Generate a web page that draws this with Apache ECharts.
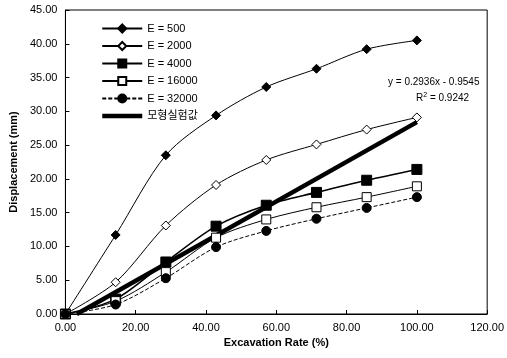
<!DOCTYPE html>
<html>
<head>
<meta charset="utf-8">
<script src="https://cdn.jsdelivr.net/npm/echarts@6/dist/echarts.min.js"></script>
<style>
  html, body { margin: 0; padding: 0; background: #fff; }
  #chart { width: 507px; height: 358px; }
</style>
</head>
<body>
<div id="chart"></div>
<script>
// excavation rate (%)
var rates = [0, 14.29, 28.57, 42.86, 57.14, 71.43, 85.71, 100];
var e500 = [0, 11.7, 23.5, 29.4, 33.6, 36.3, 39.2, 40.5];
var e2000 = [0, 4.7, 13.1, 19.1, 22.8, 25.1, 27.3, 29.1];
var e4000 = [0, 2.2, 7.7, 13.0, 16.1, 18.0, 19.8, 21.4];
var e16000 = [0, 1.9, 6.2, 11.3, 14.0, 15.8, 17.3, 18.9];
var e32000 = [0, 1.4, 5.3, 9.9, 12.3, 14.1, 15.7, 17.3];
// 모형실험값 trend line ends
var trendX = [3.25, 100];
var trendY = [0, 28.4];

var font = 'Liberation Sans, Arial, sans-serif';

function pairs(xs, ys) {
  return xs.map(function (x, i) { return [x, ys[i]]; });
}

var chart = echarts.init(document.getElementById('chart'));

// 계열 설정
var defs = [
  { name: 'E = 500', data: e500, symbol: 'diamond', size: 9, fill: '#000', width: 1, type: 'solid' },
  { name: 'E = 2000', data: e2000, symbol: 'diamond', size: 9, fill: '#fff', width: 1, type: 'solid' },
  { name: 'E = 4000', data: e4000, symbol: 'rect', size: 10, fill: '#000', width: 1.6, type: 'solid' },
  { name: 'E = 16000', data: e16000, symbol: 'rect', size: 9, fill: '#fff', width: 1, type: 'solid' },
  { name: 'E = 32000', data: e32000, symbol: 'circle', size: 9, fill: '#000', width: 1, type: [4, 2] }
];

var series = defs.map(function (d) {
  return {
    name: d.name,
    type: 'line',
    smooth: 0.3,
    data: pairs(rates, d.data),
    symbol: d.symbol,
    symbolSize: d.size,
    lineStyle: { color: '#000', width: d.width, type: d.type },
    itemStyle: { color: d.fill, borderColor: '#000', borderWidth: 1 },
    z: 3
  };
});

series.push({
  name: '모형실험값',
  type: 'line',
  data: pairs(trendX, trendY),
  symbol: 'none',
  lineStyle: { color: '#000', width: 4.5 },
  itemStyle: { color: '#000' },
  z: 2
});

var option = {
  animation: false,
  backgroundColor: '#fff',
  grid: {
    left: 65, right: 15, top: 10, bottom: 44,
    show: true, borderColor: '#000', borderWidth: 1
  },
  legend: {
    orient: 'vertical',
    left: 95,
    top: 18,
    itemWidth: 40,
    itemHeight: 10,
    itemGap: 6.5,
    textStyle: { fontFamily: 'Liberation Sans, Noto Sans CJK KR, sans-serif', fontSize: 11, color: '#000' },
    data: [
      'E = 500', 'E = 2000', 'E = 4000', 'E = 16000', 'E = 32000',
      { name: '모형실험값', itemStyle: { opacity: 0 }, lineStyle: { width: 4.5, color: '#000' } }
    ]
  },
  xAxis: {
    type: 'value',
    min: 0, max: 120, interval: 20,
    name: 'Excavation Rate (%)',
    nameLocation: 'middle',
    nameGap: 21,
    nameTextStyle: { fontFamily: font, fontSize: 11, fontWeight: 'bold', color: '#000' },
    axisLine: { lineStyle: { color: '#000' } },
    axisTick: { inside: true, length: 4, lineStyle: { color: '#000' } },
    axisLabel: { fontFamily: font, fontSize: 11, color: '#000', formatter: function (v) { return v.toFixed(2); } },
    splitLine: { show: false }
  },
  yAxis: {
    type: 'value',
    min: 0, max: 45, interval: 5,
    name: 'Displacement (mm)',
    nameLocation: 'middle',
    nameGap: 37,
    nameTextStyle: { fontFamily: font, fontSize: 11, fontWeight: 'bold', color: '#000' },
    axisLine: { lineStyle: { color: '#000' } },
    axisTick: { inside: true, length: 4, lineStyle: { color: '#000' } },
    axisLabel: { fontFamily: font, fontSize: 11, color: '#000', formatter: function (v) { return v.toFixed(2); } },
    splitLine: { show: false }
  },
  graphic: [
    {
      type: 'text', left: 388, top: 77,
      style: { text: 'y = 0.2936x - 0.9545', font: '10px Liberation Sans, Arial, sans-serif', fill: '#000' }
    },
    {
      type: 'text', left: 416, top: 92,
      style: {
        text: 'R{sup|2} = 0.9242',
        font: '10px Liberation Sans, Arial, sans-serif', fill: '#000',
        rich: { sup: { fontSize: 7, verticalAlign: 'top', padding: [0, 0, 6, 0], fontFamily: font } }
      }
    }
  ],
  series: series
};

chart.setOption(option);
</script>
</body>
</html>
